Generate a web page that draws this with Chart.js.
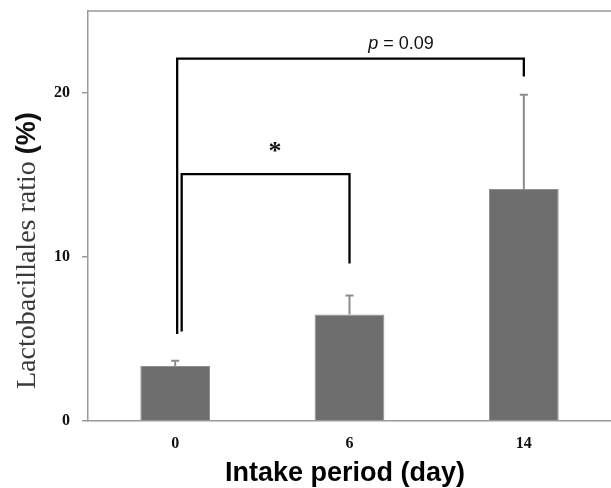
<!DOCTYPE html>
<html>
<head>
<meta charset="utf-8">
<script src="https://cdn.jsdelivr.net/npm/chart.js@4/dist/chart.umd.min.js"></script>
<style>
  html, body { margin: 0; padding: 0; background: #fff; }
  #wrap { width: 611px; height: 488px; }
</style>
</head>
<body>
<div id="wrap"><canvas id="c" width="611" height="488"></canvas></div>
<script>
// ---- data ----
const categories = ['0', '6', '14'];
const meanValues = [3.35, 6.5, 14.15];
const errorUpper = [0.33, 1.15, 5.75];
const yTickValues = [0, 10, 20];
const xTitle = 'Intake period (day)';
const yTitleMain = 'Lactobacillales ratio';
const yTitleUnit = '(%)';
// significance brackets
const bracketFrom = [0, 0];
const bracketTo = [2, 1];
const bracketLeftBottom = [5.3, 5.45];
const bracketTop = [22.1, 15.05];
const bracketRightBottom = [21.0, 9.6];
const bracketLabels = ['p = 0.09', '*'];

const overlay = {
  id: 'overlay',
  afterDatasetsDraw(chart) {
    const ctx = chart.ctx;
    const xs = chart.scales.x, ys = chart.scales.y;
    const ca = chart.chartArea;
    ctx.save();
    // top border
    ctx.strokeStyle = '#9a9a9a';
    ctx.lineWidth = 1.5;
    ctx.beginPath();
    ctx.moveTo(ca.left, ca.top);
    ctx.lineTo(chart.width, ca.top);
    ctx.stroke();
    // error bars
    ctx.strokeStyle = '#8c8c8c';
    ctx.lineWidth = 2;
    meanValues.forEach((v, i) => {
      const x = xs.getPixelForValue(i);
      const y0 = ys.getPixelForValue(v);
      const y1 = ys.getPixelForValue(v + errorUpper[i]);
      ctx.beginPath();
      ctx.moveTo(x, y0); ctx.lineTo(x, y1);
      ctx.moveTo(x - 4, y1); ctx.lineTo(x + 4, y1);
      ctx.stroke();
    });
    // brackets
    ctx.strokeStyle = '#000';
    ctx.lineWidth = 2.3;
    ctx.lineJoin = 'miter';
    const leftOffsets = [2, 6.5];
    bracketFrom.forEach((f, k) => {
      const xl = xs.getPixelForValue(f) + leftOffsets[k];
      const xr = xs.getPixelForValue(bracketTo[k]);
      const yt = ys.getPixelForValue(bracketTop[k]);
      ctx.beginPath();
      ctx.moveTo(xl, ys.getPixelForValue(bracketLeftBottom[k]));
      ctx.lineTo(xl, yt);
      ctx.lineTo(xr, yt);
      ctx.lineTo(xr, ys.getPixelForValue(bracketRightBottom[k]));
      ctx.stroke();
    });
    // bracket labels
    ctx.fillStyle = '#111';
    ctx.textBaseline = 'middle';
    {
      const cx = 401;
      const cy = ys.getPixelForValue(bracketTop[0]) - 15;
      ctx.font = 'italic 18px "Liberation Sans", Arial, sans-serif';
      const pW = ctx.measureText('p').width;
      ctx.font = '18px "Liberation Sans", Arial, sans-serif';
      const rest = ' = 0.09';
      const rW = ctx.measureText(rest).width;
      const x0 = cx - (pW + rW) / 2;
      ctx.font = 'italic 18px "Liberation Sans", Arial, sans-serif';
      ctx.textAlign = 'left';
      ctx.fillText('p', x0, cy);
      ctx.font = '18px "Liberation Sans", Arial, sans-serif';
      ctx.fillText(rest, x0 + pW, cy);
    }
    ctx.font = 'bold 26px "Liberation Serif", "Times New Roman", serif';
    ctx.textAlign = 'center';
    ctx.fillText(bracketLabels[1], 275, ys.getPixelForValue(bracketTop[1]) - 22);
    // x title
    ctx.fillStyle = '#000';
    ctx.font = 'bold 27px "Liberation Sans", Arial, sans-serif';
    ctx.textAlign = 'center';
    ctx.textBaseline = 'alphabetic';
    ctx.fillText(xTitle, 345, 481);
    // y title (mixed fonts)
    ctx.translate(35, 389);
    ctx.rotate(-Math.PI / 2);
    ctx.textAlign = 'left';
    ctx.font = '28px "Liberation Serif", "Times New Roman", serif';
    ctx.fillStyle = '#3a3a3a';
    const mainW = ctx.measureText(yTitleMain + ' ').width;
    ctx.fillText(yTitleMain + ' ', 0, 0);
    ctx.font = 'bold 27px "Liberation Sans", Arial, sans-serif';
    ctx.fillStyle = '#111';
    ctx.fillText(yTitleUnit, mainW, 0);
    ctx.restore();
  }
};

new Chart(document.getElementById('c'), {
  type: 'bar',
  data: {
    labels: categories,
    datasets: [{
      data: meanValues,
      backgroundColor: '#6e6e6e',
      borderColor: '#8f8f8f',
      borderWidth: 1,
      categoryPercentage: 1.0,
      barPercentage: 0.4
    }]
  },
  options: {
    responsive: false,
    animation: false,
    devicePixelRatio: 1,
    layout: { padding: { top: 11, right: 0, left: 0, bottom: 0 } },
    plugins: { legend: { display: false }, tooltip: { enabled: false } },
    scales: {
      x: {
        type: 'category',
        offset: true,
        grid: { display: false, drawTicks: false },
        border: { display: true, color: '#9a9a9a', width: 1.5 },
        ticks: {
          font: { family: '"Liberation Serif", "Times New Roman", serif', size: 16, weight: 'bold' },
          color: '#111',
          padding: 13
        },
        afterFit(s) { s.height = 67; s.paddingLeft = 0; s.paddingRight = 0; }
      },
      y: {
        min: 0,
        max: 25,
        afterBuildTicks(s) { s.ticks = yTickValues.map(v => ({ value: v })); },
        grid: { display: true, drawOnChartArea: false, drawTicks: true, tickLength: 6, color: '#9a9a9a', lineWidth: 1.5 },
        border: { display: true, color: '#9a9a9a', width: 1.5 },
        ticks: {
          font: { family: '"Liberation Serif", "Times New Roman", serif', size: 16, weight: 'bold' },
          color: '#111',
          padding: 12
        },
        afterFit(s) { s.width = 88; s.paddingTop = 0; s.paddingBottom = 0; }
      }
    }
  },
  plugins: [overlay]
});
</script>
</body>
</html>
